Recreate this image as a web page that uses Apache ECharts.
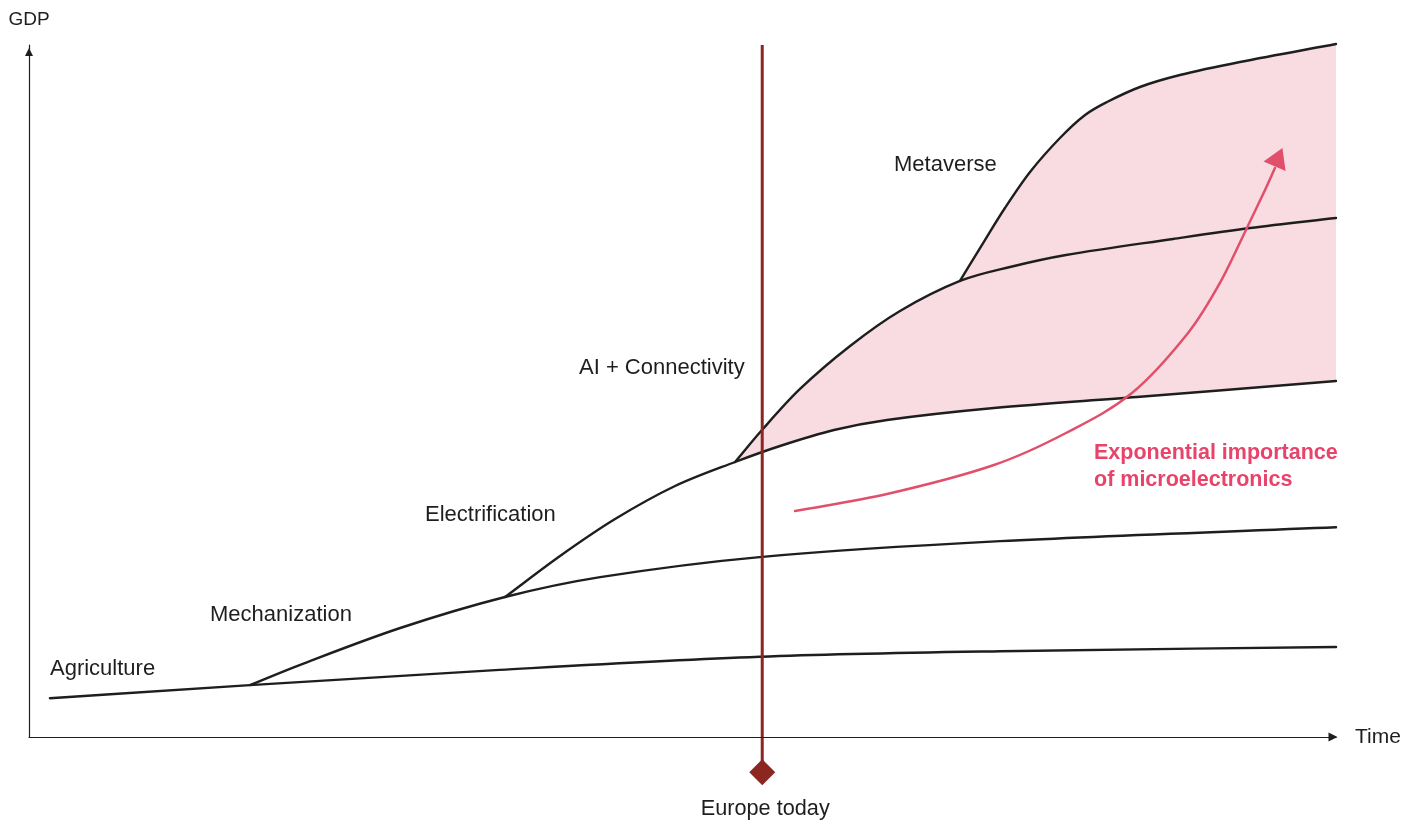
<!DOCTYPE html>
<html>
<head>
<meta charset="utf-8">
<script src="https://cdn.jsdelivr.net/npm/echarts@6/dist/echarts.min.js"></script>
<style>
  html, body { margin: 0; padding: 0; background: #ffffff; }
  #chart { width: 1421px; height: 821px; }
</style>
</head>
<body>
<div id="chart"></div>
<script>
// Time runs 0..100, GDP runs 0..100 (illustrative index units).
const agriculture = [[1.6, 5.6], [16.9, 7.5], [36.0, 9.7], [55.9, 11.6], [74.3, 12.4], [100, 13.0]];
const mechanization = [[16.9, 7.5], [20.7, 10.4], [28.4, 15.75], [36.42, 20.23], [43.7, 23.1], [55.9, 26.0], [74.3, 28.3], [100, 30.3]];
const electrification = [[36.42, 20.23], [40.63, 26.16], [44.84, 31.5], [49.43, 36.27], [54.02, 39.74], [57.46, 42.05], [61.59, 44.36], [65.65, 45.81], [73.83, 47.54], [84.77, 49.13], [100, 51.45]];
const aiConnectivity = [[54.02, 39.74], [56.08, 44.36], [58.99, 50.29], [62.82, 56.5], [66.64, 61.56], [71.23, 65.9], [75.06, 67.92], [79.34, 69.65], [87.53, 71.97], [93.42, 73.55], [100, 75.0]];
const metaverse = [[71.23, 65.9], [73.14, 71.82], [74.67, 76.45], [76.59, 81.65], [78.88, 86.56], [80.8, 89.88], [82.48, 91.76], [85.0, 93.93], [88.06, 95.66], [92.65, 97.54], [100, 100.14]];

// "Europe today" marker on the time axis
const europeToday = 56.1;
const europeSpan = [-5.1, 100];

// Curved arrow: exponential importance of microelectronics
const microArrow = [[58.61, 32.66], [65.65, 35.12], [73.83, 39.31], [79.34, 43.93], [84.39, 49.71], [88.68, 58.38], [91.12, 65.61], [93.11, 73.27], [94.57, 79.05], [95.33, 82.23]];
const microArrowHead = [95.6, 83.8];

const stageLabels = ['Agriculture', 'Mechanization', 'Electrification', 'AI + Connectivity', 'Metaverse'];
const noteLines = ['Exponential importance', 'of microelectronics'];

const FONT = '"Liberation Sans", Arial, Helvetica, sans-serif';
const INK = '#1e1e1e';
const PINK = '#e0506b';
const PINK_TEXT = '#e8436a';
const BAND = '#f8dce1';
const MAROON = '#8b2620';

// Cubic Hermite segments through pixel points (tangent = slope between neighbours),
// covering segments i0..i1-1; works for point lists running left-to-right or right-to-left
function splineSegments(pts, i0, i1) {
  const n = pts.length;
  const slope = pts.map((p, i) => {
    const a = pts[Math.max(i - 1, 0)], b = pts[Math.min(i + 1, n - 1)];
    return (b[1] - a[1]) / (b[0] - a[0]);
  });
  let d = '';
  for (let i = i0; i < i1; i++) {
    const p1 = pts[i], p2 = pts[i + 1];
    const dx = (p2[0] - p1[0]) / 3;
    const c1x = p1[0] + dx, c1y = p1[1] + slope[i] * dx;
    const c2x = p2[0] - dx, c2y = p2[1] - slope[i + 1] * dx;
    d += ' C' + c1x.toFixed(2) + ',' + c1y.toFixed(2) + ' ' + c2x.toFixed(2) + ',' + c2y.toFixed(2) + ' ' + p2[0].toFixed(2) + ',' + p2[1].toFixed(2);
  }
  return d;
}
function moveTo(p) { return 'M' + p[0].toFixed(2) + ',' + p[1].toFixed(2); }

function indexOfX(pts, x) { return pts.findIndex(p => p[0] === x); }

// One smooth curve per series, drawn through the cartesian coordinate system
function curveSeries(name, data, style, z) {
  return {
    name: name, type: 'custom', data: data, z: z, silent: true,
    encode: { x: 0, y: 1 },
    renderItem: function (params, api) {
      if (params.dataIndex !== 0) return null;
      const px = data.map(p => api.coord(p));
      return {
        type: 'path',
        shape: { pathData: moveTo(px[0]) + splineSegments(px, 0, px.length - 1) },
        style: Object.assign({ fill: 'none', stroke: INK, lineWidth: 2.4, lineJoin: 'round', lineCap: 'round' }, style || {})
      };
    }
  };
}

// Shaded band between Electrification and the upper envelope (AI + Connectivity, then Metaverse)
function bandSeries() {
  return {
    name: 'band', type: 'custom', data: metaverse, z: 1, silent: true,
    encode: { x: 0, y: 1 },
    renderItem: function (params, api) {
      if (params.dataIndex !== 0) return null;
      const ai = aiConnectivity.map(p => api.coord(p));
      const mv = metaverse.map(p => api.coord(p));
      const el = electrification.map(p => api.coord(p)).reverse();
      const j = indexOfX(aiConnectivity, metaverse[0][0]);
      const k = electrification.length - 1 - indexOfX(electrification, aiConnectivity[0][0]);
      const d = moveTo(ai[0]) + splineSegments(ai, 0, j) +
        splineSegments(mv, 0, mv.length - 1) +
        ' L' + el[0][0].toFixed(2) + ',' + el[0][1].toFixed(2) +
        splineSegments(el, 0, k) + ' Z';
      return { type: 'path', shape: { pathData: d }, style: { fill: BAND, stroke: null } };
    }
  };
}

const chart = echarts.init(document.getElementById('chart'), null, { renderer: 'canvas' });

function label(text, x, y, extra) {
  return {
    type: 'text', x: x, y: y, silent: true, z: 100,
    style: Object.assign({
      text: text, fontFamily: FONT, fontSize: 22, fill: INK,
      verticalAlign: 'middle', align: 'left'
    }, extra || {})
  };
}

const option = {
  animation: false,
  backgroundColor: '#ffffff',
  grid: { left: 29, right: 85, top: 45, bottom: 84, containLabel: false },
  xAxis: {
    type: 'value', min: 0, max: 100, z: 10,
    name: 'Time', nameLocation: 'end', nameGap: 19,
    nameTextStyle: { fontFamily: FONT, fontSize: 21, color: INK, verticalAlign: 'middle' },
    axisLine: { show: true, lineStyle: { color: INK, width: 1.2 }, symbol: ['none', 'triangle'], symbolSize: [9, 9], symbolOffset: [0, -3] },
    axisTick: { show: false }, axisLabel: { show: false }, splitLine: { show: false }
  },
  yAxis: {
    type: 'value', min: 0, max: 100, z: 10,
    name: 'GDP', nameLocation: 'end', nameGap: 16,
    nameTextStyle: { fontFamily: FONT, fontSize: 19, color: INK, align: 'center' },
    axisLine: { show: true, lineStyle: { color: INK, width: 1.2 }, symbol: ['none', 'triangle'], symbolSize: [8, 8], symbolOffset: [0, -7] },
    axisTick: { show: false }, axisLabel: { show: false }, splitLine: { show: false }
  },
  series: [
    bandSeries(),
    curveSeries(stageLabels[0], agriculture, null, 3),
    curveSeries(stageLabels[1], mechanization, null, 3),
    curveSeries(stageLabels[2], electrification, null, 3),
    curveSeries(stageLabels[3], aiConnectivity, null, 3),
    curveSeries(stageLabels[4], metaverse, null, 3),
    curveSeries('microArrow', microArrow, { stroke: PINK, lineWidth: 2.5 }, 4),
    {
      name: 'microArrowHead', type: 'scatter', data: [microArrowHead], silent: true, z: 4,
      symbol: 'triangle', symbolSize: [24, 20], symbolRotate: -23,
      itemStyle: { color: PINK, opacity: 1 }
    },
    {
      name: 'Europe today', type: 'line', clip: false, silent: true, z: 6,
      data: europeSpan.map(v => [europeToday, v]),
      symbol: 'none', lineStyle: { color: MAROON, width: 3 }
    },
    {
      name: 'Europe today marker', type: 'scatter', clip: false, silent: true, z: 6,
      data: [[europeToday, europeSpan[0]]],
      symbol: 'diamond', symbolSize: 26, itemStyle: { color: MAROON, opacity: 1 },
      label: {
        show: true, position: 'bottom', distance: 13, offset: [3, 0], formatter: 'Europe today',
        fontFamily: FONT, fontSize: 21.7, color: INK, opacity: 1
      }
    }
  ],
  graphic: [
    label(stageLabels[0], 50, 669),
    label(stageLabels[1], 210, 615),
    label(stageLabels[2], 425, 515),
    label(stageLabels[3], 579, 368),
    label(stageLabels[4], 894, 165),
    label(noteLines[0], 1094, 453, { fontWeight: 'bold', fontSize: 21.5, fill: PINK_TEXT }),
    label(noteLines[1], 1094, 480, { fontWeight: 'bold', fontSize: 21.5, fill: PINK_TEXT })
  ]
};

chart.setOption(option);
</script>
</body>
</html>
